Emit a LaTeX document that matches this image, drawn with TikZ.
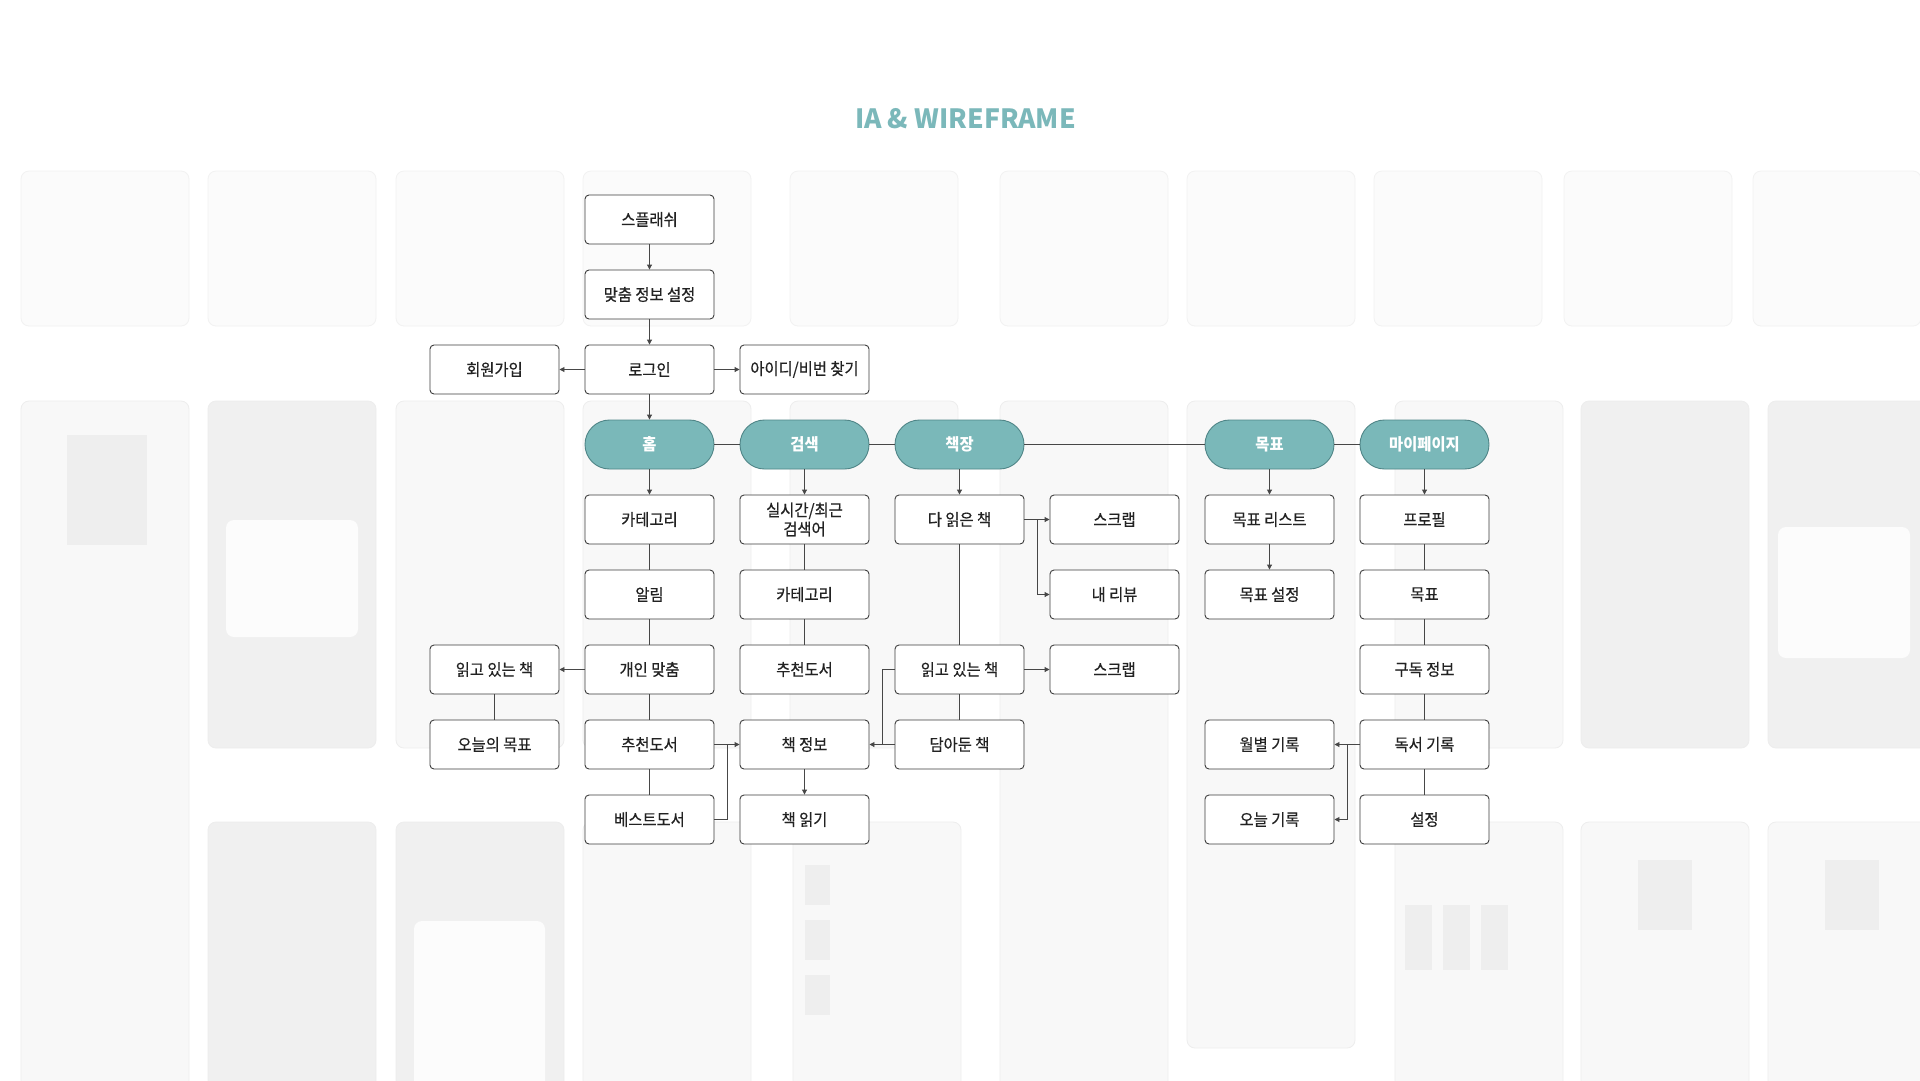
\documentclass[tikz,border=0pt]{standalone}
\usepackage{fontspec}
\setmainfont{Noto Sans CJK KR}
\newfontfamily\kmed{Noto Sans CJK KR}[FakeBold=0.5, FakeStretch=0.93]
\newfontfamily\kbold{Noto Sans CJK KR}[FakeStretch=0.93]
\usetikzlibrary{arrows.meta}
\definecolor{tealfill}{HTML}{7AB8B9}
\definecolor{tealdraw}{HTML}{4F8587}
\definecolor{titlec}{HTML}{7BB8BA}
\definecolor{linec}{HTML}{474747}
\definecolor{boxb}{HTML}{3C3C3C}
\definecolor{txtc}{HTML}{222222}
\definecolor{scrfill}{HTML}{F8F8F8}
\definecolor{scrdraw}{HTML}{EDEDED}
\definecolor{scrtop}{HTML}{FBFBFB}
\definecolor{scrtopd}{HTML}{F2F2F2}
\definecolor{scrdim}{HTML}{F0F0F0}
\definecolor{placeh}{HTML}{EEEEEE}
\begin{document}
\begin{tikzpicture}[x=1pt,y=-1pt,
  box/.style={draw=boxb, line width=0.9pt, rounded corners=4pt, fill=white,
    minimum width=129pt, minimum height=49pt, inner sep=0pt,
    font=\kmed\fontsize{16.5}{19}\selectfont, text=txtc, align=center},
  pill/.style={draw=tealdraw, line width=0.9pt, rounded corners=24.5pt, fill=tealfill,
    minimum width=129pt, minimum height=49pt, inner sep=0pt,
    font=\kbold\bfseries\fontsize{16.5}{19}\selectfont, text=white},
  conn/.style={draw=linec, line width=0.9pt},
  arr/.style={conn, -{Triangle[width=5pt,length=5pt]}},
  scr/.style={fill=scrfill, draw=scrdraw, line width=0.8pt, rounded corners=8pt},
  scrt/.style={fill=scrtop, draw=scrtopd, line width=0.8pt, rounded corners=8pt},
  scrd/.style={fill=scrdim, draw=scrdraw, line width=0.8pt, rounded corners=8pt},
  ph/.style={fill=placeh, draw=none},
  card/.style={fill=white!60!scrfill, draw=none, rounded corners=8pt}
]
\useasboundingbox (0,0) rectangle (1920,1080);
\fill[white] (0,0) rectangle (1920,1080);

% ---- background wireframe screens (faint) ----
% top row
\foreach \xl in {21,208,396,583,790,1000,1187,1374,1564,1753}
  \draw[scrt] (\xl,171) rectangle ++(168,155);
% middle row
\draw[scr] (21,401) rectangle ++(168,700);
\draw[scrd] (208,401) rectangle ++(168,347);
\draw[scr] (396,401) rectangle ++(168,347);
\draw[scr] (583,401) rectangle ++(168,347);
\draw[scr] (790,401) rectangle ++(168,347);
\draw[scr] (1000,401) rectangle ++(168,700);
\draw[scr] (1187,401) rectangle ++(168,647);
\draw[scr] (1395,401) rectangle ++(168,347);
\draw[scrd] (1581,401) rectangle ++(168,347);
\draw[scrd] (1768,401) rectangle ++(168,347);
% bottom row
\draw[scrd] (208,822) rectangle ++(168,280);
\draw[scrd] (396,822) rectangle ++(168,280);
\draw[scr] (583,822) rectangle ++(168,280);
\draw[scr] (793,822) rectangle ++(168,280);
\draw[scr] (1395,822) rectangle ++(168,280);
\draw[scr] (1581,822) rectangle ++(168,280);
\draw[scr] (1768,822) rectangle ++(168,280);
% placeholders and cards
\fill[ph] (67,435) rectangle (147,545);
\fill[card] (226,520) rectangle (358,637);
\fill[card] (1778,527) rectangle (1910,658);
\fill[card] (414,921) rectangle (545,1090);
\fill[ph] (1638,860) rectangle (1692,930);
\fill[ph] (1825,860) rectangle (1879,930);
\fill[ph] (1405,905) rectangle (1432,970);
\fill[ph] (1443,905) rectangle (1470,970);
\fill[ph] (1481,905) rectangle (1508,970);
\fill[ph] (805,865) rectangle (830,905);
\fill[ph] (805,920) rectangle (830,960);
\fill[ph] (805,975) rectangle (830,1015);

% ---- title ----
\node[font=\bfseries\fontsize{26.5}{30}\selectfont, text=titlec] (title) at (965.5,118.5) {IA \& WIREFRAME};

% ---- nodes ----
\node[box] (splash) at (649.5,219.5) {스플래쉬};
\node[box] (custom) at (649.5,294.5) {맞춤 정보 설정};
\node[box] (login) at (649.5,369.5) {로그인};
\node[box] (signup) at (494.5,369.5) {회원가입};
\node[box] (findid) at (804.5,369.5) {아이디/비번 찾기};

\node[pill] (home) at (649.5,444.5) {홈};
\node[pill] (search) at (804.5,444.5) {검색};
\node[pill] (shelf) at (959.5,444.5) {책장};
\node[pill] (goal) at (1269.5,444.5) {목표};
\node[pill] (mypage) at (1424.5,444.5) {마이페이지};

% home column
\node[box] (hcat) at (649.5,519.5) {카테고리};
\node[box] (halarm) at (649.5,594.5) {알림};
\node[box] (hcustom) at (649.5,669.5) {개인 맞춤};
\node[box] (hrec) at (649.5,744.5) {추천도서};
\node[box] (hbest) at (649.5,819.5) {베스트도서};
\node[box] (hreading) at (494.5,669.5) {읽고 있는 책};
\node[box] (htoday) at (494.5,744.5) {오늘의 목표};

% search column
\node[box] (srt) at (804.5,519.5) {실시간/최근\\검색어};
\node[box] (scat) at (804.5,594.5) {카테고리};
\node[box] (srec) at (804.5,669.5) {추천도서};
\node[box] (binfo) at (804.5,744.5) {책 정보};
\node[box] (bread) at (804.5,819.5) {책 읽기};

% shelf column
\node[box] (done) at (959.5,519.5) {다 읽은 책};
\node[box] (sreading) at (959.5,669.5) {읽고 있는 책};
\node[box] (saved) at (959.5,744.5) {담아둔 책};
\node[box] (scrap1) at (1114.5,519.5) {스크랩};
\node[box] (review) at (1114.5,594.5) {내 리뷰};
\node[box] (scrap2) at (1114.5,669.5) {스크랩};

% goal column
\node[box] (glist) at (1269.5,519.5) {목표 리스트};
\node[box] (gset) at (1269.5,594.5) {목표 설정};
\node[box] (monthly) at (1269.5,744.5) {월별 기록};
\node[box] (todayrec) at (1269.5,819.5) {오늘 기록};

% mypage column
\node[box] (profile) at (1424.5,519.5) {프로필};
\node[box] (mgoal) at (1424.5,594.5) {목표};
\node[box] (subs) at (1424.5,669.5) {구독 정보};
\node[box] (record) at (1424.5,744.5) {독서 기록};
\node[box] (settings) at (1424.5,819.5) {설정};

% ---- junction coordinates ----
\coordinate (j1) at (727,744.5);
\coordinate (j2) at (882,744.5);
\coordinate (j3) at (1037,519.5);
\coordinate (j4) at (1347,744.5);

% ---- connectors ----
\draw[arr] (splash) -- (custom);
\draw[arr] (custom) -- (login);
\draw[arr] (login) -- (signup);
\draw[arr] (login) -- (findid);
\draw[arr] (login) -- (home);

\draw[conn] (home) -- (search);
\draw[conn] (search) -- (shelf);
\draw[conn] (shelf) -- (goal);
\draw[conn] (goal) -- (mypage);

\draw[arr] (home) -- (hcat);
\draw[conn] (hcat) -- (halarm);
\draw[conn] (halarm) -- (hcustom);
\draw[conn] (hcustom) -- (hrec);
\draw[conn] (hrec) -- (hbest);
\draw[arr] (hcustom) -- (hreading);
\draw[conn] (hreading) -- (htoday);
\draw[arr] (hrec) -- (binfo);
\draw[conn] (hbest.east) -| (j1);

\draw[arr] (search) -- (srt);
\draw[conn] (srt) -- (scat);
\draw[conn] (scat) -- (srec);
\draw[arr] (binfo) -- (bread);

\draw[arr] (shelf) -- (done);
\draw[conn] (done) -- (sreading);
\draw[conn] (sreading) -- (saved);
\draw[arr] (saved) -- (binfo);
\draw[conn] (sreading.west) -| (j2);
\draw[arr] (done) -- (scrap1);
\draw[arr] (j3) |- (review.west);
\draw[arr] (sreading) -- (scrap2);

\draw[arr] (goal) -- (glist);
\draw[arr] (glist) -- (gset);

\draw[arr] (mypage) -- (profile);
\draw[conn] (profile) -- (mgoal);
\draw[conn] (mgoal) -- (subs);
\draw[conn] (subs) -- (record);
\draw[conn] (record) -- (settings);
\draw[arr] (record) -- (monthly);
\draw[arr] (j4) |- (todayrec.east);
\end{tikzpicture}
\end{document}
